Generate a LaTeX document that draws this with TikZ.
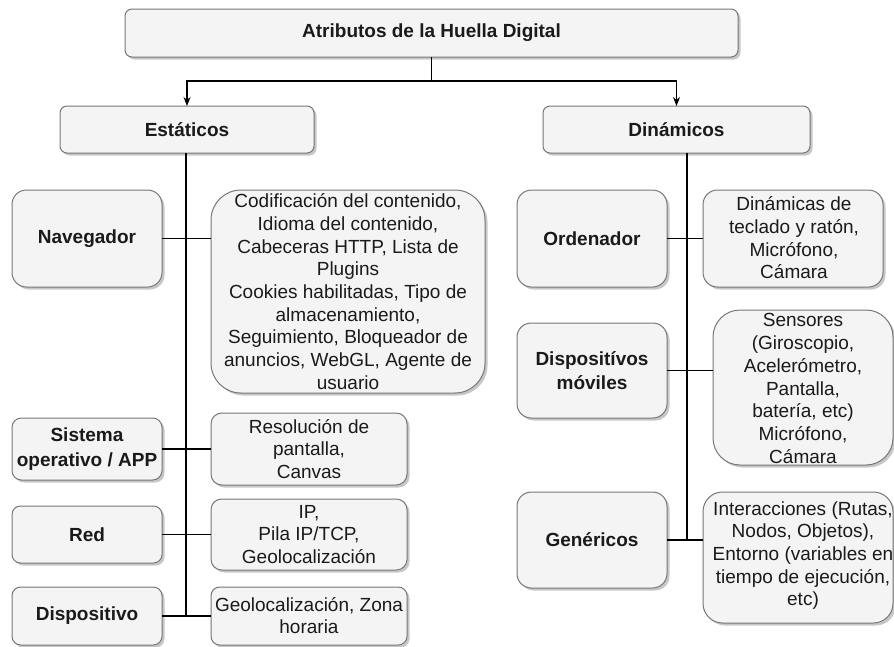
\documentclass[tikz,border=0pt]{standalone}
\usepackage{fontspec}
\setmainfont{Liberation Sans}
\usetikzlibrary{shadows,arrows.meta}
\definecolor{boxfill}{HTML}{F4F4F4}
\definecolor{boxline}{HTML}{777777}
\definecolor{ink}{HTML}{1A1A1A}
\tikzset{
  card/.style={draw=boxline, fill=boxfill, line width=1pt, rounded corners=#1,
    inner sep=0pt, outer sep=0pt,
    drop shadow={shadow xshift=2.5pt, shadow yshift=-2.5pt, fill=black, opacity=0.22}},
  words/.style={text=ink, align=center, inner sep=0pt,
    font=\fontsize{19}{22.7}\selectfont},
  title/.style={words, font=\fontsize{19}{24.5}\selectfont\bfseries},
  link/.style={draw=black, line width=1.1pt},
  arrowlink/.style={link, -{Stealth[length=9pt,width=7pt]}}
}
\begin{document}
\begin{tikzpicture}[x=1pt, y=-1pt]
\useasboundingbox (0,0) rectangle (894,646);
\begin{scope}
\clip (0,0) rectangle (894,646);

% root and the two categories
\node[card=7, minimum width=613, minimum height=48] (root) at (431.5,33) {};
\node[title] at (root.center) {Atributos de la Huella Digital};
\node[card=7, minimum width=254, minimum height=47] (est) at (187,129.5) {};
\node[title] at (est.center) {Estáticos};
\node[card=7, minimum width=267, minimum height=47] (din) at (676.5,129.5) {};
\node[title] at (din.center) {Dinámicos};

% static attributes
\node[card=14.5, minimum width=150, minimum height=97] (nav) at (87,238.5) {};
\node[title] at (nav.center) {Navegador};
\node[card=30, minimum width=274, minimum height=203] (navd) at (348,291.5) {};
\node[words] at (348,291.5) {Codificación del contenido,\\Idioma del contenido,\\Cabeceras HTTP, Lista de\\Plugins\\Cookies habilitadas, Tipo de\\almacenamiento,\\Seguimiento, Bloqueador de\\anuncios, WebGL, Agente de\\usuario};

\node[card=9.3, minimum width=150, minimum height=62] (so) at (87,449) {};
\node[title] at (so.center) {Sistema\\operativo / APP};
\node[card=10.8, minimum width=196, minimum height=72] (sod) at (309,449) {};
\node[words] at (sod.center) {Resolución de\\pantalla,\\Canvas};

\node[card=8.5, minimum width=150, minimum height=57] (red) at (87,534.5) {};
\node[title] at (red.center) {Red};
\node[card=10.6, minimum width=196, minimum height=71] (redd) at (309,534.5) {};
\node[words] at (redd.center) {IP,\\Pila IP/TCP,\\Geolocalización};

\node[card=8.7, minimum width=150, minimum height=58] (disp) at (87,616) {};
\node[title] at (disp.center) {Dispositivo};
\node[card=8.7, minimum width=196, minimum height=58] (dispd) at (309,616) {};
\node[words] at (309,615.5) {Geolocalización, Zona\\horaria};

% dynamic attributes
\node[card=14.5, minimum width=150, minimum height=97] (ord) at (592,238.5) {};
\node[title] at (ord.center) {Ordenador};
\node[card=14.5, minimum width=180, minimum height=97] (ordd) at (793,238.5) {};
\node[words] at (794,238) {Dinámicas de\\teclado y ratón,\\Micrófono,\\Cámara};

\node[card=14.2, minimum width=150, minimum height=95] (mov) at (592,370.5) {};
\node[title] at (mov.center) {Dispositívos\\móviles};
\node[card=27, minimum width=180, minimum height=155] (movd) at (803,387.5) {};
\node[words] at (803,388.5) {Sensores\\(Giroscopio,\\Acelerómetro,\\Pantalla,\\batería, etc)\\Micrófono,\\Cámara};

\node[card=14.4, minimum width=150, minimum height=96] (gen) at (592,540) {};
\node[title] at (gen.center) {Genéricos};
\node[card=19.6, minimum width=190, minimum height=131] (gend) at (798,557.5) {};
\node[words] at (803,555.5) {Interacciones (Rutas,\\Nodos, Objetos),\\Entorno (variables en\\tiempo de ejecución,\\etc)};

% branching from the root
\coordinate (fork) at (431.5,81);
\draw[link] (root.south -| fork) -- (fork);
\draw[arrowlink] (fork) -| (est.north);
\draw[arrowlink] (fork) -| (din.north);

% trunk of the static side
\coordinate (sbot) at (186,616);
\draw[link] (est.south -| sbot) -- (sbot);
\draw[link] (nav.east) -- (nav.east -| navd.west);
\draw[link] (so.east) -- (sod.west);
\draw[link] (red.east) -- (redd.west);
\draw[link] (disp.east) -- (dispd.west);

% trunk of the dynamic side
\coordinate (dbot) at (687,540);
\draw[link] (din.south -| dbot) -- (dbot);
\draw[link] (ord.east) -- (ordd.west);
\draw[link] (mov.east) -- (mov.east -| movd.west);
\draw[link] (gen.east) -- (gen.east -| gend.west);
\end{scope}
\end{tikzpicture}
\end{document}
